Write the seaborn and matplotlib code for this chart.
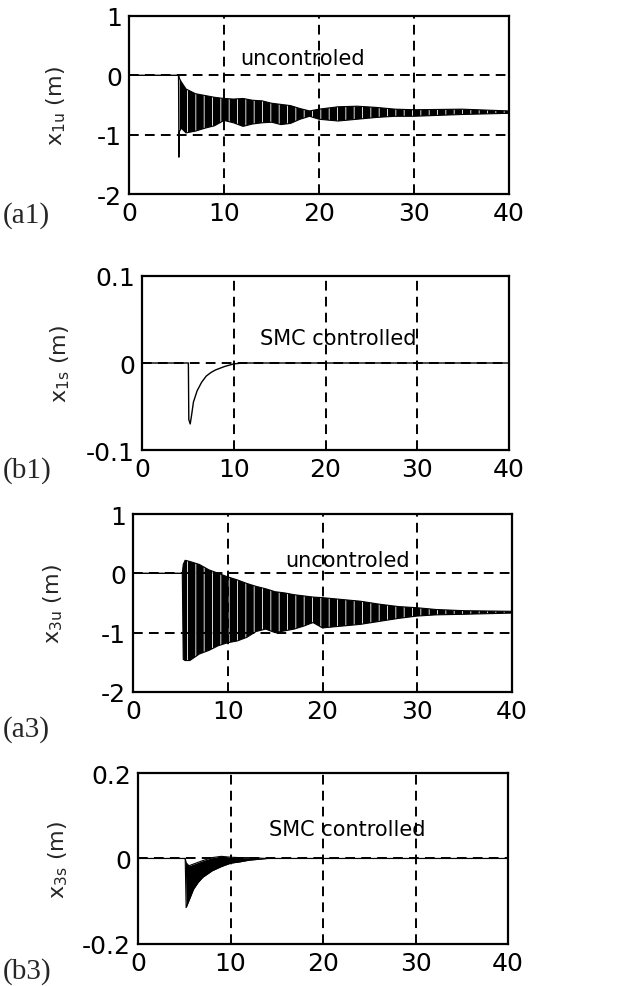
"""
Four stacked response panels: uncontrolled vs SMC controlled displacement
"""
import matplotlib
matplotlib.use("Agg")
import matplotlib.pyplot as plt
import numpy as np
import pandas as pd
import seaborn as sns

# ---- data ----------------------------------------------------------------
# (a1) uncontrolled x_1u, envelope of the dense oscillation
t_a1 = [0, 5.2, 5.25, 5.3, 5.5, 6, 7, 8, 9, 10, 11, 12, 13, 14, 15, 16, 17,
        18, 19, 20, 22, 24, 26, 28, 30, 35, 40]
up_a1 = [0, 0, 0, -0.05, -0.11, -0.23, -0.31, -0.34, -0.37, -0.39, -0.40,
         -0.39, -0.42, -0.43, -0.47, -0.49, -0.51, -0.56, -0.60, -0.57, -0.53,
         -0.52, -0.54, -0.57, -0.58, -0.57, -0.60]
lo_a1 = [0, 0, -1.38, -0.95, -0.89, -0.97, -0.94, -0.89, -0.85, -0.76, -0.80,
         -0.86, -0.82, -0.80, -0.79, -0.83, -0.81, -0.74, -0.69, -0.74, -0.77,
         -0.74, -0.71, -0.69, -0.69, -0.66, -0.64]

# (b1) SMC controlled x_1s
t_b1 = [0, 5.05, 5.1, 5.25, 5.4, 5.6, 6, 6.5, 7, 7.5, 8, 9, 10, 11, 40]
x_b1 = [0, 0, -0.065, -0.07, -0.06, -0.045, -0.032, -0.022, -0.015, -0.011,
        -0.008, -0.004, -0.001, 0, 0]

# (a3) uncontrolled x_3u, envelope
t_a3 = [0, 5.2, 5.3, 5.5, 6, 7, 8, 9, 10, 11, 12, 13, 14, 15, 16, 17, 18, 19,
        20, 22, 24, 26, 28, 30, 32, 35, 40]
up_a3 = [0, 0, 0.15, 0.22, 0.20, 0.15, 0.06, 0.0, -0.06, -0.11, -0.17, -0.22,
         -0.26, -0.31, -0.33, -0.36, -0.38, -0.40, -0.41, -0.44, -0.47, -0.52,
         -0.56, -0.58, -0.61, -0.63, -0.64]
lo_a3 = [0, 0, -1.45, -1.47, -1.47, -1.36, -1.30, -1.22, -1.17, -1.14, -1.08,
         -0.98, -0.94, -1.00, -0.97, -0.94, -0.89, -0.83, -0.92, -0.89, -0.86,
         -0.81, -0.76, -0.72, -0.70, -0.69, -0.67]

# (b3) SMC controlled x_3s, envelope
t_b3 = [0, 5.1, 5.2, 5.5, 6, 6.5, 7, 8, 9, 10, 11, 12, 13, 14, 40]
up_b3 = [0, 0, -0.01, -0.017, -0.013, -0.009, -0.005, 0.002, 0.005, 0.003,
         0.002, 0.002, 0.001, 0, 0]
lo_b3 = [0, 0, -0.115, -0.099, -0.072, -0.056, -0.044, -0.029, -0.019, -0.011,
         -0.008, -0.004, -0.002, 0, 0]

panels = ["(a1)", "(b1)", "(a3)", "(b3)"]
ylabels = [r"$\mathregular{x_{1u}}$ (m)", r"$\mathregular{x_{1s}}$ (m)",
           r"$\mathregular{x_{3u}}$ (m)", r"$\mathregular{x_{3s}}$ (m)"]
yticks = [[1, 0, -1, -2], [0.1, 0, -0.1], [1, 0, -1, -2], [0.2, 0, -0.2]]
ytick_labels = [["1", "0", "-1", "-2"], ["0.1", "0", "-0.1"],
                ["1", "0", "-1", "-2"], ["0.2", "0", "-0.2"]]
xticks = [0, 10, 20, 30, 40]
notes = ["uncontroled", "SMC controlled", "uncontroled", "SMC controlled"]

# ---- figure ---------------------------------------------------------------
sns.set_style("white")
plt.rcParams["font.family"] = ["DejaVu Sans"]
plt.rcParams["axes.unicode_minus"] = False
plt.rcParams["mathtext.default"] = "regular"
plt.rcParams["hatch.linewidth"] = 0.6

fig = plt.figure(figsize=(6.34, 9.87), dpi=100)
rects = [[0.2035, 0.8024, 0.5995, 0.1804],
         [0.2240, 0.5430, 0.5790, 0.1764],
         [0.2098, 0.2979, 0.5978, 0.1803],
         [0.2177, 0.0426, 0.5836, 0.1732]]
axes = [fig.add_axes(r) for r in rects]

# uncontrolled envelopes as filled bands (white hatch hints the oscillation)
env = [(t_a1, up_a1, lo_a1), None, (t_a3, up_a3, lo_a3), (t_b3, up_b3, lo_b3)]
for i, ax in enumerate(axes):
    if env[i] is not None:
        t, up, lo = env[i]
        df = pd.DataFrame({"t": t, "up": up, "lo": lo})
        ax.fill_between(df["t"], df["lo"], df["up"], facecolor="black",
                        edgecolor="white" if i != 3 else "black",
                        hatch="||" if i != 3 else None, lw=0)
        sns.lineplot(data=df, x="t", y="up", ax=ax, color="black", lw=0.8)
        sns.lineplot(data=df, x="t", y="lo", ax=ax, color="black", lw=0.8)
    else:
        df = pd.DataFrame({"t": t_b1, "x": x_b1})
        sns.lineplot(data=df, x="t", y="x", ax=ax, color="black", lw=1.0)

note_pos = [(18.3, 0.29), (21.4, 0.029), (22.6, 0.22), (22.6, 0.07)]
ylab_x = [-0.16, -0.19, -0.18, -0.184]

for i, ax in enumerate(axes):
    ax.set_xlim(0, 40)
    ax.set_ylim(yticks[i][-1], yticks[i][0])
    ax.set_xticks(xticks)
    ax.set_xticklabels([str(v) for v in xticks])
    ax.set_yticks(yticks[i])
    ax.set_yticklabels(ytick_labels[i])
    ax.grid(True, color="black", ls="--", lw=1.4, dashes=(5, 3.2))
    ax.set_axisbelow(False)
    for s in ax.spines.values():
        s.set_visible(True)
        s.set_color("black")
        s.set_linewidth(1.6)
    ax.tick_params(direction="in", length=3, width=1, labelsize=18, pad=5,
                   colors="black")
    ax.set_xlabel("")
    ax.set_ylabel(ylabels[i], fontsize=16)
    ax.yaxis.set_label_coords(ylab_x[i], 0.5)
    ax.text(note_pos[i][0], note_pos[i][1], notes[i], fontsize=15,
            ha="center", va="center", color="black")

label_y = [0.782, 0.523, 0.261, 0.016]
for lab, y in zip(panels, label_y):
    fig.text(0.005, y, lab, fontsize=21, family=["Liberation Serif"],
             ha="left", va="center")

fig.savefig("out.png", dpi=100)
